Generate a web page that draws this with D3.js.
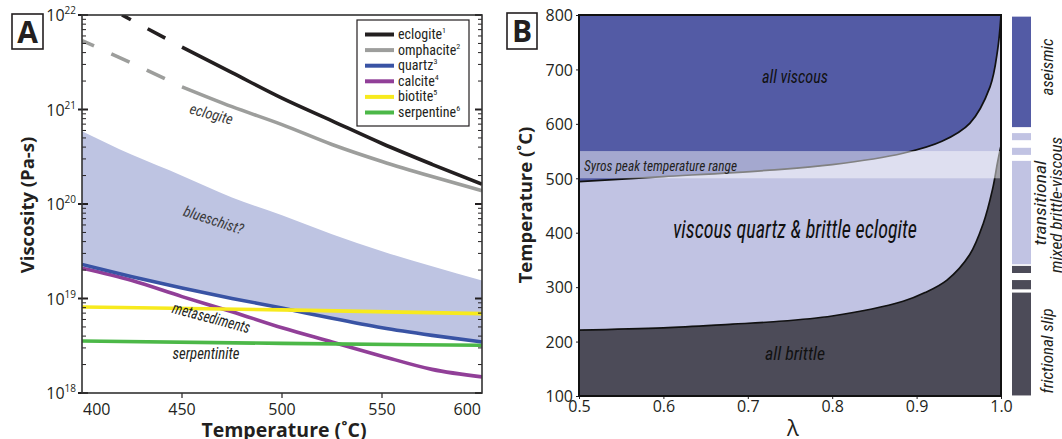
<!DOCTYPE html>
<html><head><meta charset="utf-8">
<script src="https://cdn.jsdelivr.net/npm/d3@7"></script>
<style>
body{margin:0;background:#fff;}
svg{display:block;}
</style></head><body>
<svg id="chart" width="1062" height="439"></svg>
<script>
// ---------- Panel A data (log10 viscosity, Pa-s) ----------
const tempsA = [400, 425, 450, 475, 500, 525, 550, 575, 600];
const eclogiteT = [420, 450, 475, 500, 525, 550, 575, 600];
const eclogiteLogV = [22.0, 21.66, 21.39, 21.12, 20.88, 20.64, 20.42, 20.21];
const omphaciteLogV = [21.73, 21.49, 21.24, 21.03, 20.84, 20.63, 20.45, 20.29, 20.14];
const blueschistTopLogV = [20.77, 20.52, 20.30, 20.07, 19.88, 19.68, 19.50, 19.34, 19.19];
const quartzLogV = [19.36, 19.23, 19.11, 19.00, 18.90, 18.79, 18.69, 18.61, 18.54];
const calciteLogV = [19.32, 19.19, 19.02, 18.86, 18.69, 18.54, 18.39, 18.25, 18.17];
const flatT = [400, 500, 600];
const biotiteLogV = [18.91, 18.88, 18.84];
const serpentineLogV = [18.55, 18.525, 18.505];
const dashedUntilT = 450;
const xTicksA = [400, 450, 500, 550, 600];
const yDecadesA = [18, 19, 20, 21, 22];
const legendNames = ["eclogite", "omphacite", "quartz", "calcite", "biotite", "serpentine"];
const legendRefs = ["1", "2", "3", "4", "5", "6"];
const legendColors = ["#231f20", "#9d9e9c", "#3953a4", "#913f98", "#f7ea1e", "#4cb848"];

// ---------- Panel B data ----------
const lambdaUpper = [0.5, 0.6, 0.726, 0.8, 0.884, 0.93, 0.963, 0.987, 0.996, 1.0];
const tempUpper   = [494, 503, 515, 525, 546, 568, 601, 668, 736, 800];
const lambdaLower = [0.5, 0.6, 0.682, 0.726, 0.8, 0.884, 0.91, 0.936, 0.963, 0.979, 0.99, 0.996, 1.0];
const tempLower   = [221, 225, 232, 236, 247, 274, 290, 313, 360, 417, 480, 530, 560];
const syrosRange = [500, 550];
const xTicksB = [0.5, 0.6, 0.7, 0.8, 0.9, 1.0];
const yTicksB = [100, 200, 300, 400, 500, 600, 700, 800];
const barStart = [594, 570, 543, 342, 326, 296, 101];
const barEnd   = [797, 583, 556, 532, 339, 313, 290];
const barType  = ["aseismic", "transitional", "transitional", "transitional", "frictional", "frictional", "frictional"];

const svg = d3.select("#chart");
const NARROW = '"Liberation Sans Narrow","Roboto Condensed","Liberation Sans",sans-serif';
const SANS = '"Open Sans","Noto Sans",sans-serif';

// ================= PANEL A =================
const A = {l: 82, r: 482, t: 15, b: 393};
const xA = d3.scaleLinear().domain([400, 600]).range([A.l, A.r]);
const yA = d3.scaleLog().domain([1e18, 1e22]).range([A.b, A.t]);
const gA = svg.append("g");
gA.append("clipPath").attr("id", "clipA").append("rect")
  .attr("x", A.l).attr("y", A.t).attr("width", A.r - A.l).attr("height", A.b - A.t);
const plotA = gA.append("g").attr("clip-path", "url(#clipA)");

const pts = (ts, vs) => ts.map((t, i) => ({t, v: Math.pow(10, vs[i])}));
const lineA = d3.line().x(d => xA(d.t)).y(d => yA(d.v)).curve(d3.curveMonotoneX);

// blueschist band
const band = tempsA.map((t, i) => ({t, top: Math.pow(10, blueschistTopLogV[i]), bot: Math.pow(10, quartzLogV[i])}));
plotA.append("path").datum(band)
  .attr("d", d3.area().x(d => xA(d.t)).y0(d => yA(d.bot)).y1(d => yA(d.top)).curve(d3.curveMonotoneX))
  .attr("fill", "#bec4e2");

function drawSeries(data, color, dashed) {
  const solid = data.filter(d => d.t >= dashedUntilT);
  const dash = data.filter(d => d.t <= dashedUntilT);
  plotA.append("path").datum(solid).attr("d", lineA)
    .attr("fill", "none").attr("stroke", color).attr("stroke-width", 3.6);
  if (dashed && dash.length > 1) {
    plotA.append("path").datum(dash.slice().reverse())
      .attr("d", d3.line().x(d => xA(d.t)).y(d => yA(d.v)))
      .attr("fill", "none").attr("stroke", color).attr("stroke-width", 3.6)
      .attr("stroke-dasharray", "20 19").attr("stroke-dashoffset", 20);
  }
}
drawSeries(pts(tempsA, omphaciteLogV), legendColors[1], true);
drawSeries(pts(eclogiteT, eclogiteLogV), legendColors[0], true);
plotA.append("path").datum(pts(tempsA, calciteLogV)).attr("d", lineA)
  .attr("fill", "none").attr("stroke", legendColors[3]).attr("stroke-width", 3.6);
plotA.append("path").datum(pts(flatT, serpentineLogV)).attr("d", lineA)
  .attr("fill", "none").attr("stroke", legendColors[5]).attr("stroke-width", 3.6);
plotA.append("path").datum(pts(tempsA, quartzLogV)).attr("d", lineA)
  .attr("fill", "none").attr("stroke", legendColors[2]).attr("stroke-width", 3.6);
plotA.append("path").datum(pts(flatT, biotiteLogV)).attr("d", lineA)
  .attr("fill", "none").attr("stroke", legendColors[4]).attr("stroke-width", 3.6);

// in-plot labels
function label(g, txt, x, y, rot, size, len, color) {
  g.append("text").attr("transform", `translate(${x},${y}) rotate(${rot})`)
    .attr("text-anchor", "middle").attr("font-family", NARROW).attr("font-style", "italic")
    .attr("font-size", size).attr("fill", color || "#231f20")
    .attr("textLength", len).attr("lengthAdjust", "spacingAndGlyphs").text(txt);
}
label(gA, "eclogite", 210, 119, 15, 15, 44, "#3a3a3a");
label(gA, "blueschist?", 212, 225, 18, 15, 62, "#3a3a3a");
label(gA, "metasediments", 210, 323, 15, 16, 80, "#231f20");
label(gA, "serpentinite", 206, 359, 0, 16, 67, "#231f20");

// y axis ticks (log)
const tickG = gA.append("g").attr("stroke", "#231f20");
for (let d = 18; d < 22; d++) {
  for (let k = 2; k <= 9; k++) {
    const y = yA(k * Math.pow(10, d));
    tickG.append("line").attr("x1", A.l).attr("x2", A.l + 4).attr("y1", y).attr("y2", y).attr("stroke-width", 1);
    tickG.append("line").attr("x1", A.r).attr("x2", A.r - 4).attr("y1", y).attr("y2", y).attr("stroke-width", 1);
  }
}
yDecadesA.forEach(d => {
  const y = yA(Math.pow(10, d));
  tickG.append("line").attr("x1", A.l - 4).attr("x2", A.l + 6).attr("y1", y).attr("y2", y).attr("stroke-width", 2);
  tickG.append("line").attr("x1", A.r).attr("x2", A.r - 7).attr("y1", y).attr("y2", y).attr("stroke-width", 2);
  const t = gA.append("text").attr("x", A.l - 6).attr("y", y + 6).attr("text-anchor", "end")
    .attr("font-family", SANS).attr("font-size", 16).attr("fill", "#231f20");
  t.append("tspan").text("10");
  t.append("tspan").attr("dy", -7).attr("font-size", 10).text(String(d));
});
// x axis ticks
xTicksA.forEach((v, i) => {
  const x = xA(v);
  if (i > 0 && i < xTicksA.length - 1)
    gA.append("line").attr("x1", x).attr("x2", x).attr("y1", A.b).attr("y2", A.b + 5).attr("stroke", "#231f20").attr("stroke-width", 1.2);
  gA.append("text").attr("x", i === 0 ? x + 1 : i === xTicksA.length - 1 ? x - 1 : x).attr("y", 415)
    .attr("text-anchor", i === 0 ? "start" : i === xTicksA.length - 1 ? "end" : "middle")
    .attr("font-family", SANS).attr("font-size", 16).attr("fill", "#231f20").text(v);
});
// frame
gA.append("rect").attr("x", A.l).attr("y", A.t).attr("width", A.r - A.l).attr("height", A.b - A.t)
  .attr("fill", "none").attr("stroke", "#333").attr("stroke-width", 1.6);
// titles
gA.append("text").attr("x", 284).attr("y", 437).attr("text-anchor", "middle")
  .attr("font-family", SANS).attr("font-weight", "bold").attr("font-size", 19.5).attr("fill", "#231f20")
  .text("Temperature (\u02DAC)");
gA.append("text").attr("transform", "translate(34,205) rotate(-90)").attr("text-anchor", "middle")
  .attr("font-family", SANS).attr("font-weight", "bold").attr("font-size", 18.5).attr("fill", "#231f20")
  .text("Viscosity (Pa-s)");
// panel letter
gA.append("rect").attr("x", 12).attr("y", 14).attr("width", 31).attr("height", 35)
  .attr("fill", "#fff").attr("stroke", "#231f20").attr("stroke-width", 1.6);
gA.append("text").attr("x", 27.5).attr("y", 43).attr("text-anchor", "middle")
  .attr("font-family", SANS).attr("font-weight", "bold").attr("font-size", 30).attr("fill", "#231f20").text("A");

// legend
const lg = gA.append("g");
lg.append("rect").attr("x", 357).attr("y", 20).attr("width", 112).attr("height", 106)
  .attr("fill", "#fff").attr("stroke", "#231f20").attr("stroke-width", 1.2);
const legY = d3.scalePoint().domain(legendNames).range([34.5, 112.5]);
legendNames.forEach((n, i) => {
  const y = legY(n);
  lg.append("line").attr("x1", 365).attr("x2", 394).attr("y1", y).attr("y2", y)
    .attr("stroke", legendColors[i]).attr("stroke-width", 4);
  const t = lg.append("text").attr("x", 398).attr("y", y + 4.5)
    .attr("font-family", NARROW).attr("font-size", 14).attr("fill", "#231f20");
  t.append("tspan").text(n);
  t.append("tspan").attr("dy", -6).attr("font-size", 8).text(legendRefs[i]);
});

// ================= PANEL B =================
const B = {l: 579, r: 1001, t: 15, b: 396};
const xB = d3.scaleLinear().domain([0.5, 1.0]).range([B.l, B.r]);
const yB = d3.scaleLinear().domain([100, 800]).range([B.b, B.t]);
const gB = svg.append("g");
gB.append("clipPath").attr("id", "clipB").append("rect")
  .attr("x", B.l).attr("y", B.t).attr("width", B.r - B.l).attr("height", B.b - B.t);
const plotB = gB.append("g").attr("clip-path", "url(#clipB)");
plotB.append("rect").attr("x", B.l).attr("y", B.t).attr("width", B.r - B.l).attr("height", B.b - B.t).attr("fill", "#c1c3e3");
const upper = lambdaUpper.map((l, i) => ({l, T: tempUpper[i]}));
const lower = lambdaLower.map((l, i) => ({l, T: tempLower[i]}));
const curveB = d3.curveCatmullRom.alpha(0.5);
plotB.append("path").datum(upper)
  .attr("d", d3.area().x(d => xB(d.l)).y0(yB(800)).y1(d => yB(d.T)).curve(curveB))
  .attr("fill", "#535ba5");
plotB.append("path").datum(lower)
  .attr("d", d3.area().x(d => xB(d.l)).y0(yB(100)).y1(d => yB(d.T)).curve(curveB))
  .attr("fill", "#4c4b58");
const lineB = d3.line().x(d => xB(d.l)).y(d => yB(d.T)).curve(curveB);
plotB.append("path").datum(upper).attr("d", lineB).attr("fill", "none").attr("stroke", "#111").attr("stroke-width", 1.7);
plotB.append("path").datum(lower).attr("d", lineB).attr("fill", "none").attr("stroke", "#111").attr("stroke-width", 1.7);
// Syros band
plotB.append("rect").attr("x", B.l).attr("width", B.r - B.l)
  .attr("y", yB(syrosRange[1])).attr("height", yB(syrosRange[0]) - yB(syrosRange[1]))
  .attr("fill", "#fff").attr("opacity", 0.47);
gB.append("text").attr("x", B.l + 5).attr("y", 171).attr("font-family", NARROW).attr("font-style", "italic")
  .attr("font-size", 14).attr("fill", "#231f20").attr("textLength", 153).attr("lengthAdjust", "spacingAndGlyphs")
  .text("Syros peak temperature range");
label(gB, "all viscous", 795, 83, 0, 19, 66, "#111");
label(gB, "viscous quartz & brittle eclogite", 795, 238, 0, 25, 244, "#111");
label(gB, "all brittle", 795, 360, 0, 19, 60, "#111");

// axes
const axL = gB.append("g").attr("transform", `translate(${B.l},0)`)
  .call(d3.axisLeft(yB).tickValues(yTicksB).tickSize(3).tickPadding(3));
const axBt = gB.append("g").attr("transform", `translate(0,${B.b})`)
  .call(d3.axisBottom(xB).tickValues(xTicksB).tickSize(3).tickPadding(3).tickFormat(d3.format(".1f")));
[axL, axBt].forEach(a => {
  a.select(".domain").remove();
  a.selectAll("text").attr("font-family", SANS).attr("font-size", 16).attr("fill", "#231f20");
  a.selectAll("line").attr("stroke", "#231f20");
});
axBt.selectAll("text").attr("dy", "0.62em");
axL.selectAll("text").attr("dy", "0.36em");
gB.append("rect").attr("x", B.l).attr("y", B.t).attr("width", B.r - B.l).attr("height", B.b - B.t)
  .attr("fill", "none").attr("stroke", "#111").attr("stroke-width", 2);
gB.append("text").attr("x", (B.l + B.r) / 2 + 3).attr("y", 436).attr("text-anchor", "middle")
  .attr("font-family", SANS).attr("font-size", 22).attr("fill", "#231f20").text("\u03BB");
gB.append("text").attr("transform", "translate(532,205) rotate(-90)").attr("text-anchor", "middle")
  .attr("font-family", SANS).attr("font-weight", "bold").attr("font-size", 18.5).attr("fill", "#231f20")
  .text("Temperature (\u02DAC)");
gB.append("rect").attr("x", 507).attr("y", 13).attr("width", 30).attr("height", 36)
  .attr("fill", "#fff").attr("stroke", "#231f20").attr("stroke-width", 1.6);
gB.append("text").attr("x", 522).attr("y", 42).attr("text-anchor", "middle")
  .attr("font-family", SANS).attr("font-weight", "bold").attr("font-size", 30).attr("fill", "#231f20").text("B");

// side bar
const barColor = {aseismic: "#535ba5", transitional: "#c1c3e3", frictional: "#4c4b58"};
barStart.forEach((s, i) => {
  gB.append("rect").attr("x", 1012).attr("width", 19)
    .attr("y", yB(barEnd[i])).attr("height", yB(s) - yB(barEnd[i]))
    .attr("fill", barColor[barType[i]]);
});
function vlabel(txt, x, y, size, len) {
  gB.append("text").attr("transform", `translate(${x},${y}) rotate(-90)`).attr("text-anchor", "middle")
    .attr("font-family", NARROW).attr("font-style", "italic").attr("font-size", size).attr("fill", "#231f20")
    .attr("textLength", len).attr("lengthAdjust", "spacingAndGlyphs").text(txt);
}
vlabel("aseismic", 1053, 67, 17, 57);
vlabel("transitional", 1046, 203, 17, 85);
vlabel("mixed brittle-viscous", 1062, 205, 17, 136);
vlabel("frictional slip", 1053, 351, 17, 85);
</script>
</body></html>
